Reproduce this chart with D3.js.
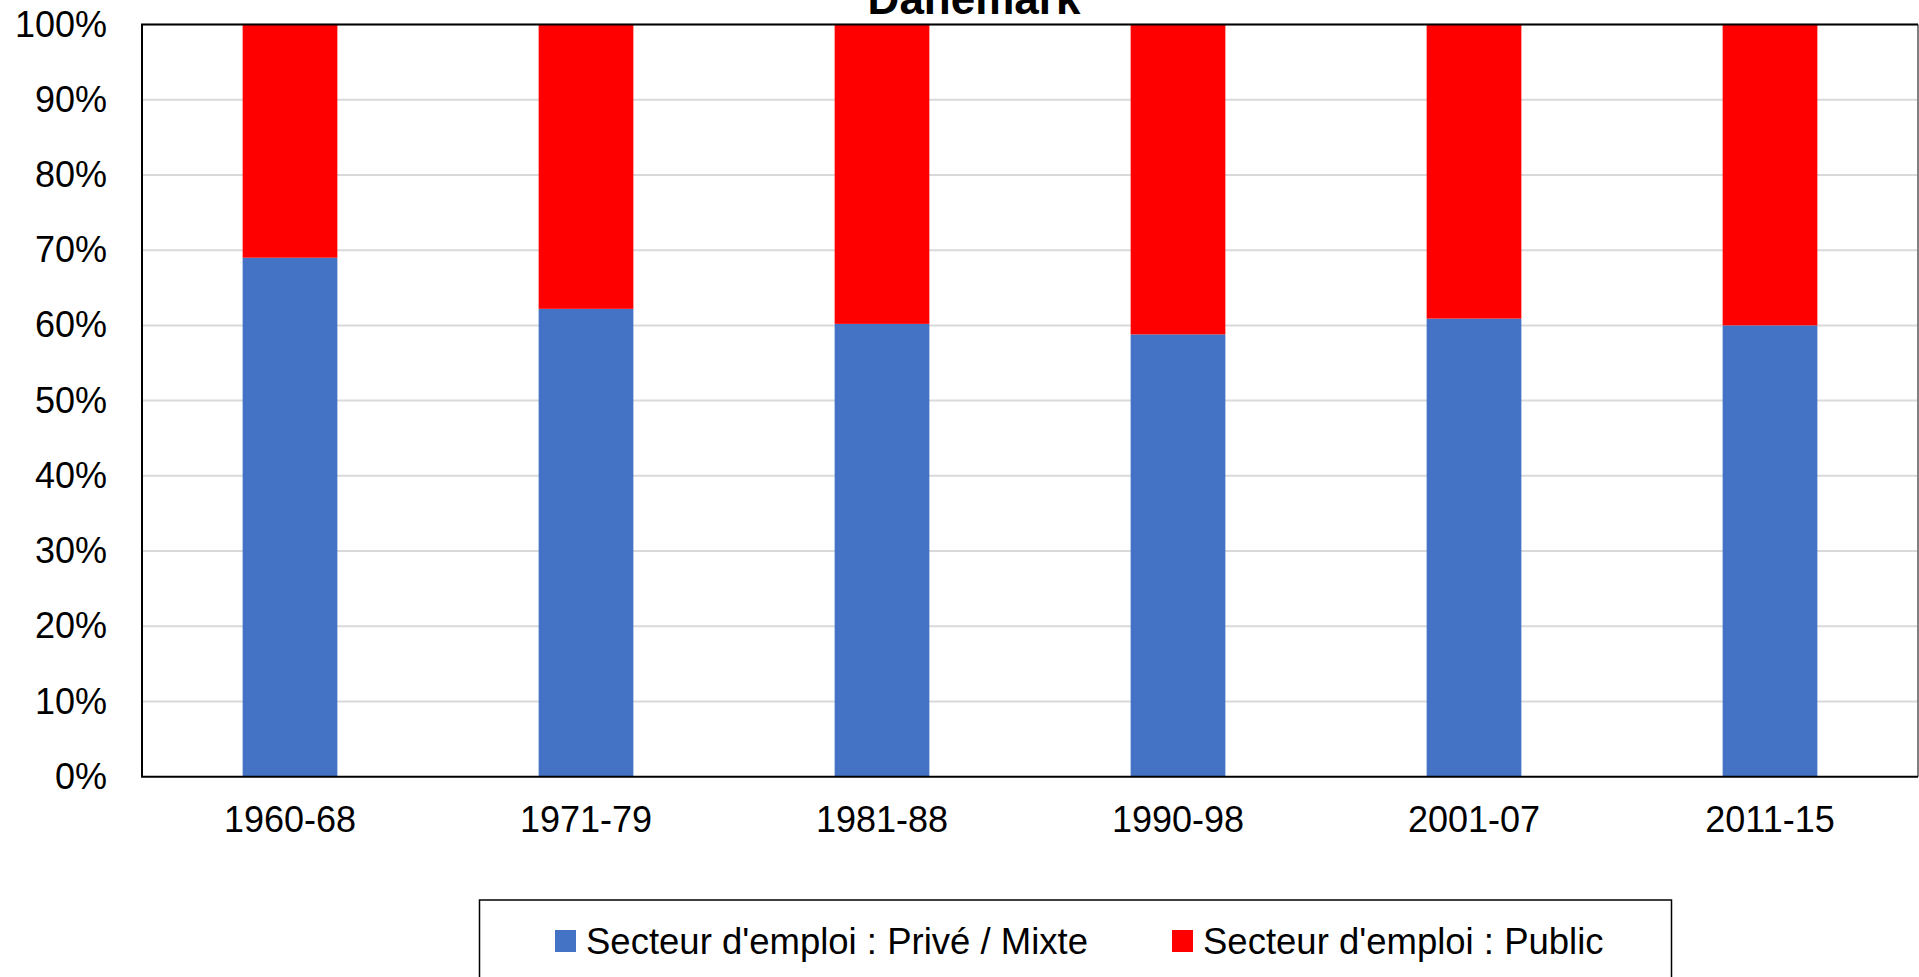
<!DOCTYPE html>
<html>
<head>
<meta charset="utf-8">
<script src="https://cdn.jsdelivr.net/npm/d3@7"></script>
<style>
  body { margin: 0; background: #ffffff; }
  svg { display: block; font-family: "Liberation Sans", Arial, sans-serif; }
</style>
</head>
<body>
<script>
// data
var periods = ["1960-68", "1971-79", "1981-88", "1990-98", "2001-07", "2011-15"];
var prive   = [0.690, 0.622, 0.602, 0.588, 0.609, 0.600];
var publicS = [0.310, 0.378, 0.398, 0.412, 0.391, 0.400];
var seriesNames = ["Secteur d'emploi : Privé / Mixte", "Secteur d'emploi : Public"];
var seriesColors = ["#4472c4", "#ff0000"];
var yTicks = [0, 0.1, 0.2, 0.3, 0.4, 0.5, 0.6, 0.7, 0.8, 0.9, 1];

var width = 1919,
    height = 977;
var margin = {top: 24.5, right: 1, bottom: 200.3, left: 142};

var svg = d3.select("body")
  .append("svg")
    .attr("width", width)
    .attr("height", height);

var plotW = width - margin.left - margin.right,
    plotH = height - margin.top - margin.bottom;

var x = d3.scaleBand()
  .domain(periods)
  .range([margin.left, margin.left + plotW])
  .paddingInner(0.68)
  .paddingOuter(0.34);

var y = d3.scaleLinear()
  .domain([0, 1])
  .range([margin.top + plotH, margin.top]);

// build the stack from the two arrays
var rows = periods.map(function(p, i) {
  return {period: p, prive: prive[i], public: publicS[i]};
});
var stack = d3.stack().keys(["prive", "public"]);
var layers = stack(rows);

// title (cut off at the top, like in the picture)
svg.append("text")
  .attr("x", 974)
  .attr("y", 13.5)
  .attr("text-anchor", "middle")
  .style("font-size", "44px")
  .style("font-weight", "bold")
  .text("Danemark");

// gridlines
svg.append("g")
  .selectAll("line")
  .data(yTicks.slice(1))
  .enter()
  .append("line")
    .attr("x1", margin.left)
    .attr("x2", margin.left + plotW)
    .attr("y1", function(d) { return y(d); })
    .attr("y2", function(d) { return y(d); })
    .attr("stroke", "#d9d9d9")
    .attr("stroke-width", 2);

// bars
svg.append("g")
  .selectAll("g")
  .data(layers)
  .enter()
  .append("g")
    .attr("fill", function(d, i) { return seriesColors[i]; })
  .selectAll("rect")
  .data(function(d) { return d; })
  .enter()
  .append("rect")
    .attr("x", function(d) { return x(d.data.period); })
    .attr("width", x.bandwidth())
    .attr("y", function(d) { return y(d[1]); })
    .attr("height", function(d) { return y(d[0]) - y(d[1]); });

// plot border: black top / left / bottom, grey right
var yTop = margin.top, yBot = margin.top + plotH;
var xLeft = margin.left, xRight = margin.left + plotW;
svg.append("line").attr("x1", xRight).attr("x2", xRight).attr("y1", yTop).attr("y2", yBot)
  .attr("stroke", "#808080").attr("stroke-width", 2);
svg.append("line").attr("x1", xLeft - 1).attr("x2", xRight).attr("y1", yTop).attr("y2", yTop)
  .attr("stroke", "#000").attr("stroke-width", 2);
svg.append("line").attr("x1", xLeft - 1).attr("x2", xRight).attr("y1", yBot).attr("y2", yBot)
  .attr("stroke", "#000").attr("stroke-width", 2);
svg.append("line").attr("x1", xLeft).attr("x2", xLeft).attr("y1", yTop).attr("y2", yBot)
  .attr("stroke", "#000").attr("stroke-width", 2);

// y axis labels
var yAxis = d3.axisLeft(y)
  .tickValues(yTicks)
  .tickFormat(d3.format(".0%"))
  .tickSize(0)
  .tickPadding(35);
var gy = svg.append("g")
  .attr("transform", "translate(" + margin.left + ",0)")
  .call(yAxis);
gy.select(".domain").remove();
gy.selectAll("text")
  .style("font-size", "36px")
  .style("font-family", "\"Liberation Sans\", Arial, sans-serif")
  .attr("fill", "#000");

// x axis labels
var xAxis = d3.axisBottom(x).tickSize(0).tickPadding(30);
var gx = svg.append("g")
  .attr("transform", "translate(0," + yBot + ")")
  .call(xAxis);
gx.select(".domain").remove();
gx.selectAll("text")
  .style("font-size", "36px")
  .style("font-family", "\"Liberation Sans\", Arial, sans-serif")
  .attr("fill", "#000");

// legend
var legend = svg.append("g");
legend.append("rect")
  .attr("x", 479.5)
  .attr("y", 900)
  .attr("width", 1192)
  .attr("height", 100)
  .attr("fill", "#fff")
  .attr("stroke", "#000")
  .attr("stroke-width", 1.5);

var legendX = [555, 1172];
var items = legend.selectAll("g.item")
  .data(seriesNames)
  .enter()
  .append("g")
    .attr("class", "item")
    .attr("transform", function(d, i) { return "translate(" + legendX[i] + ",930)"; });
items.append("rect")
  .attr("width", 21)
  .attr("height", 22)
  .attr("fill", function(d, i) { return seriesColors[i]; });
items.append("text")
  .attr("x", 31)
  .attr("y", 24)
  .style("font-size", "36.5px")
  .text(function(d) { return d; });
</script>
</body>
</html>
